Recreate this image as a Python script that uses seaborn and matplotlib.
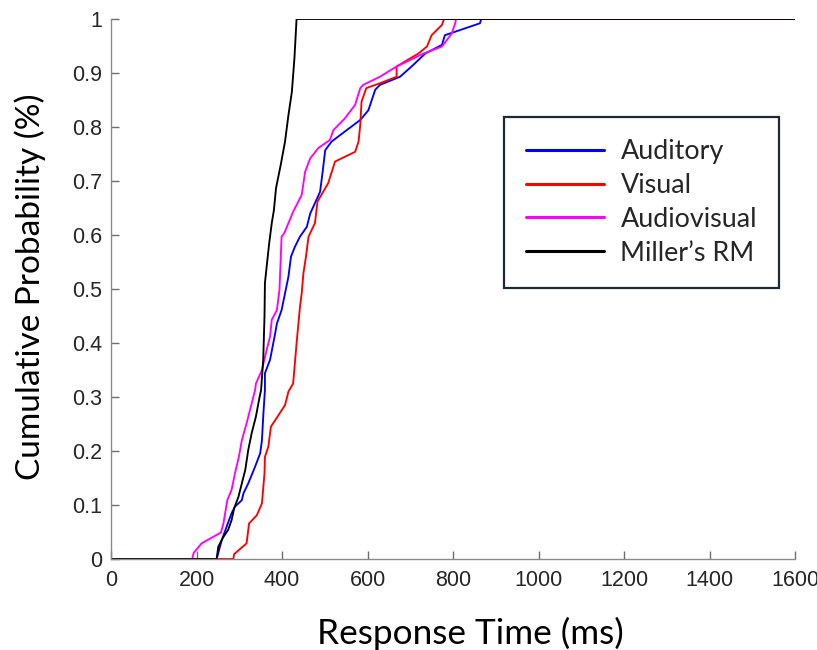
import numpy as np
import pandas as pd
import matplotlib
matplotlib.use("Agg")
import matplotlib.pyplot as plt
import seaborn as sns

# ---- data ----
auditory_rt = [0, 247, 259, 282, 290, 306, 310, 321, 337, 349, 353, 356, 360, 360, 372, 384, 388, 399, 407, 415,
               421, 430, 442, 458, 466, 473, 489, 495, 501, 516, 551, 583, 602, 618, 629, 676, 703, 735, 774, 781,
               863, 866, 1600]
auditory_p = [0, 0, 0.035, 0.085, 0.097, 0.109, 0.122, 0.140, 0.171, 0.196, 0.220, 0.264, 0.313, 0.344, 0.369, 0.418,
              0.436, 0.461, 0.492, 0.523, 0.560, 0.578, 0.597, 0.615, 0.640, 0.652, 0.680, 0.717, 0.757, 0.773,
              0.794, 0.813, 0.831, 0.869, 0.878, 0.893, 0.912, 0.936, 0.952, 0.970, 0.992, 1.0, 1.0]

visual_rt = [0, 286, 288, 317, 323, 341, 353, 359, 360, 368, 374, 384, 407, 415, 426, 434, 442, 446, 450, 456,
             462, 477, 483, 508, 524, 571, 579, 583, 586, 597, 629, 668, 668, 719, 739, 750, 774, 779, 1600]
visual_p = [0, 0, 0.009, 0.029, 0.066, 0.081, 0.103, 0.159, 0.189, 0.208, 0.245, 0.257, 0.285, 0.310, 0.325, 0.399,
            0.467, 0.492, 0.529, 0.560, 0.597, 0.622, 0.662, 0.696, 0.736, 0.754, 0.773, 0.804, 0.847, 0.872,
            0.881, 0.893, 0.912, 0.936, 0.949, 0.970, 0.989, 1.0, 1.0]

audiovisual_rt = [0, 190, 193, 212, 257, 263, 267, 272, 282, 290, 299, 306, 317, 329, 337, 339, 353, 364, 372, 376,
                  388, 394, 399, 405, 426, 446, 454, 466, 485, 512, 520, 547, 571, 583, 590, 629, 668, 731, 774, 797,
                  805, 807, 1600]
audiovisual_p = [0, 0, 0.011, 0.029, 0.049, 0.066, 0.085, 0.109, 0.128, 0.159, 0.189, 0.220, 0.251, 0.288, 0.313,
                 0.325, 0.350, 0.387, 0.412, 0.443, 0.461, 0.498, 0.597, 0.603, 0.643, 0.674, 0.717, 0.742, 0.761,
                 0.776, 0.794, 0.816, 0.841, 0.872, 0.878, 0.893, 0.912, 0.936, 0.949, 0.973, 0.992, 1.0, 1.0]

miller_rt = [0, 247, 251, 263, 274, 282, 288, 298, 306, 314, 321, 329, 339, 346, 351, 356, 359, 360, 364, 370,
             376, 381, 386, 397, 407, 415, 423, 429, 434, 1600]
miller_p = [0, 0, 0.023, 0.041, 0.054, 0.072, 0.094, 0.115, 0.140, 0.165, 0.202, 0.233, 0.264, 0.294, 0.313, 0.369,
            0.449, 0.511, 0.541, 0.585, 0.622, 0.646, 0.687, 0.730, 0.773, 0.822, 0.865, 0.927, 1.0, 1.0]

conditions = ["Auditory", "Visual", "Audiovisual", "Miller\u2019s RM"]
colors = ["#0000ff", "#ff0000", "#ff00ff", "#000000"]
x_ticks = [0, 200, 400, 600, 800, 1000, 1200, 1400, 1600]
y_ticks = [0, 0.1, 0.2, 0.3, 0.4, 0.5, 0.6, 0.7, 0.8, 0.9, 1]
y_tick_labels = ["0", "0.1", "0.2", "0.3", "0.4", "0.5", "0.6", "0.7", "0.8", "0.9", "1"]

series = [(auditory_rt, auditory_p), (visual_rt, visual_p), (audiovisual_rt, audiovisual_p), (miller_rt, miller_p)]
frames = []
for name, (rt, p) in zip(conditions, series):
    frames.append(pd.DataFrame({"rt": rt, "p": p, "cond": name}))
df = pd.concat(frames, ignore_index=True)

# ---- style ----
sns.set_style("white")
plt.rcParams["font.family"] = ["Liberation Sans", "DejaVu Sans"]

fig = plt.figure(figsize=(8.17, 6.5), dpi=100)
ax = fig.add_axes([0.1359, 0.14, 0.8372, 0.8308])

sns.lineplot(data=df, x="rt", y="p", hue="cond", hue_order=conditions,
             palette=dict(zip(conditions, colors)), estimator=None, sort=False,
             linewidth=1.35, ax=ax)

ax.set_xlim(0, 1600)
ax.set_ylim(0, 1)
ax.set_xticks(x_ticks)
ax.set_xticklabels([str(t) for t in x_ticks])
ax.set_yticks(y_ticks)
ax.set_yticklabels(y_tick_labels)

for s in ["top", "right"]:
    ax.spines[s].set_visible(False)
for s in ["left", "bottom"]:
    ax.spines[s].set_color("#8a8a8a")
    ax.spines[s].set_linewidth(1.0)

ax.tick_params(axis="both", which="major", bottom=True, left=True, top=False, right=False,
               direction="in", length=6, width=1.0, color="#6e6e6e",
               labelsize=15.5, labelcolor="#262626")
ax.tick_params(axis="x", pad=8)
ax.tick_params(axis="y", pad=6.5)

ax.set_xlabel("Response Time (ms)", family=["Lato", "DejaVu Sans"], size=25.3, color="#000000")
ax.set_ylabel("Cumulative Probability (%)", family=["Lato", "DejaVu Sans"], size=24, color="#000000")
ax.xaxis.set_label_coords(0.526, -0.137)
ax.xaxis.label.set_verticalalignment("center")
ax.yaxis.set_label_coords(-0.118, 0.505)
ax.yaxis.label.set_verticalalignment("center")

handles, labels = ax.get_legend_handles_labels()
leg = ax.legend(handles, labels, loc="upper left", bbox_to_anchor=(0.5746, 0.8185),
                borderaxespad=0, frameon=True, fancybox=False, framealpha=1,
                prop={"family": ["Lato", "DejaVu Sans"], "size": 19.4},
                handlelength=2.9, handletextpad=0.6, borderpad=0.82, labelspacing=0.33)
leg.get_frame().set_edgecolor("#1c2a36")
leg.get_frame().set_linewidth(1.6)
for h in leg.get_lines():
    h.set_linewidth(2.2)

fig.savefig("out.png", dpi=100)
